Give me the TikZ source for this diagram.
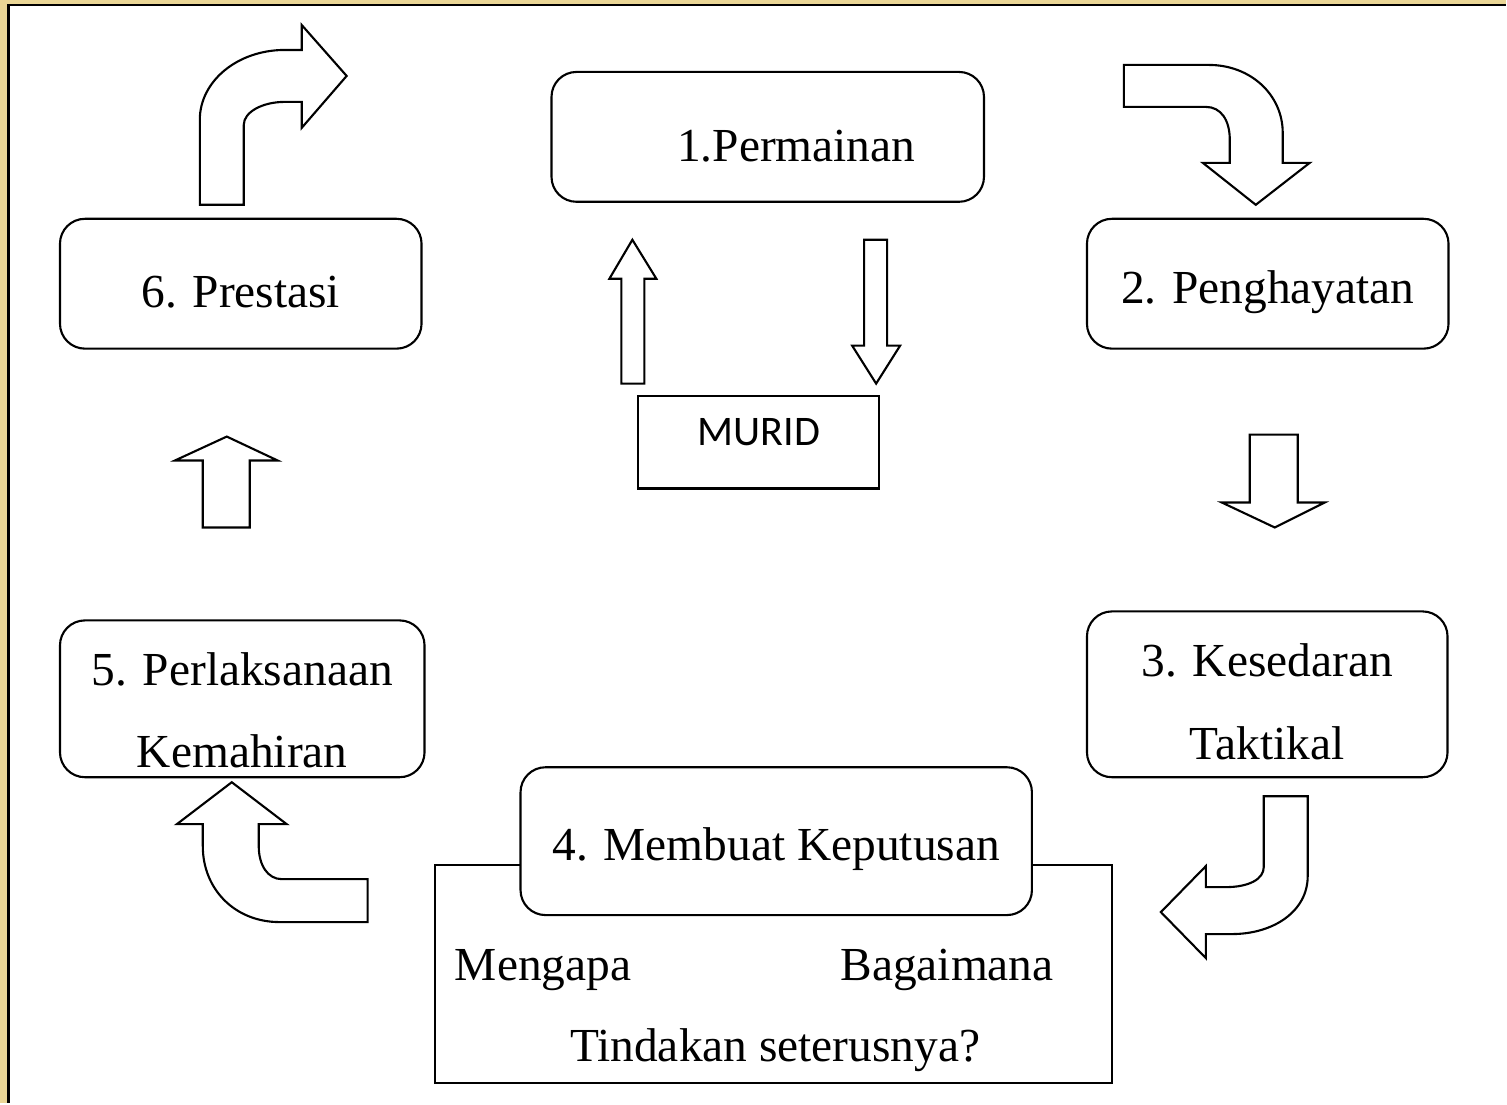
\documentclass[tikz,border=0pt]{standalone}
\usepackage{fontspec}
\setmainfont{Liberation Serif}
\newfontfamily\muridfont{Carlito}
\definecolor{bggold}{RGB}{234,214,150}

\begin{document}
\begin{tikzpicture}[x=0.02cm, y=-0.02cm,
    box/.style={draw, fill=white, line width=1.2pt, rounded corners=0.5cm,
        inner sep=0pt, outer sep=0pt, align=center,
        font=\fontsize{27}{47}\selectfont,
        execute at begin node={\rule{0pt}{28pt}}},
    plainbox/.style={draw, fill=white, line width=1.2pt, inner sep=0pt, outer sep=0pt},
    txt/.style={font=\fontsize{27}{32}\selectfont, inner sep=0pt},
    blockarrow/.style={draw, fill=white, line width=1.2pt, line join=miter}]

    % frame
    \fill[bggold] (0,0) rectangle (1507,1104);
    \fill[white] (9,5) rectangle (1507,1104);
    \draw[line width=1.7pt] (9,1104) -- (9,5) -- (1507,5);

    % the steps
    \node[box, minimum width=8.66cm, minimum height=2.6cm] (permainan) at (768.5,137) {\hspace*{1.14cm}1.Permainan};
    \node[box, minimum width=7.24cm, minimum height=2.6cm] (penghayatan) at (1269,284) {2. Penghayatan};
    \node[box, minimum width=7.22cm, minimum height=3.32cm] (kesedaran) at (1268.5,695) {\rule{0pt}{27.5pt}3. Kesedaran\\Taktikal};
    \node[plainbox, minimum width=13.56cm, minimum height=4.36cm] (tanya) at (774,975) {};
    \node[box, minimum width=10.24cm, minimum height=2.96cm] (keputusan) at (777,842) {4. Membuat Keputusan};
    \node[box, minimum width=7.3cm, minimum height=3.14cm] (perlaksanaan) at (242.5,699.5) {\rule{0pt}{32pt}5. Perlaksanaan\\Kemahiran};
    \node[box, minimum width=7.24cm, minimum height=2.6cm] (prestasi) at (241,284) {6. Prestasi};
    \node[plainbox, minimum width=4.82cm, minimum height=1.86cm, text depth=11.5pt,
        font=\muridfont\fontsize{24}{28}\selectfont] (murid) at (759.5,442.5) {MURID};

    % questions
    \node[txt, anchor=base west] (mengapa) at (455,981) {Mengapa};
    \node[txt, anchor=base east] (bagaimana) at (1055,981) {Bagaimana};
    \node[txt, anchor=base] (tindakan) at (776,1063) {Tindakan seterusnya?};

    % murid arrows
    \draw[blockarrow] (622,384) -- (622,279) -- (610,279) -- (633,240) -- (657,279) -- (645,279) -- (645,384) -- cycle;
    \draw[blockarrow] (865,240) -- (888,240) -- (888,346) -- (901,346) -- (877,384) -- (853,346) -- (865,346) -- cycle;

    % straight arrows
    \draw[blockarrow] (1251,435) -- (1299,435) -- (1299,503) -- (1326,503) -- (1276,528) -- (1223,503) -- (1251,503) -- cycle;
    \draw[blockarrow] (203,528) -- (203,461) -- (175,461) -- (227,437) -- (278,461) -- (250,461) -- (250,528) -- cycle;

    % bent arrows
    \draw[blockarrow] (200,205) -- (200,120) .. controls (200,81) and (238,50) .. (285,50) -- (302,50) -- (302,25)
        -- (347,76) -- (302,128) -- (302,102) -- (285,102) .. controls (263,102) and (244,112) .. (244,125) -- (244,205) -- cycle;
    \draw[blockarrow] (1125,65) -- (1210,65) .. controls (1252,65) and (1284,95) .. (1284,133) -- (1284,163) -- (1311,163)
        -- (1257,205) -- (1204,163) -- (1231,163) -- (1231,140) .. controls (1231,120) and (1222,107) .. (1207,107) -- (1125,107) -- cycle;
    \draw[blockarrow] (1265,797) -- (1309,797) -- (1309,877) .. controls (1309,912) and (1275,935) .. (1233,935) -- (1207,935) -- (1207,959)
        -- (1162,913) -- (1207,867) -- (1207,888) -- (1227,888) .. controls (1250,888) and (1265,880) .. (1265,868) -- cycle;
    \draw[blockarrow] (368,880) -- (368,923) -- (280,923) .. controls (235,923) and (203,890) .. (203,847) -- (203,825) -- (177,825)
        -- (232,783) -- (287,825) -- (259,825) -- (259,847) .. controls (259,866) and (268,880) .. (282,880) -- cycle;
\end{tikzpicture}
\end{document}
